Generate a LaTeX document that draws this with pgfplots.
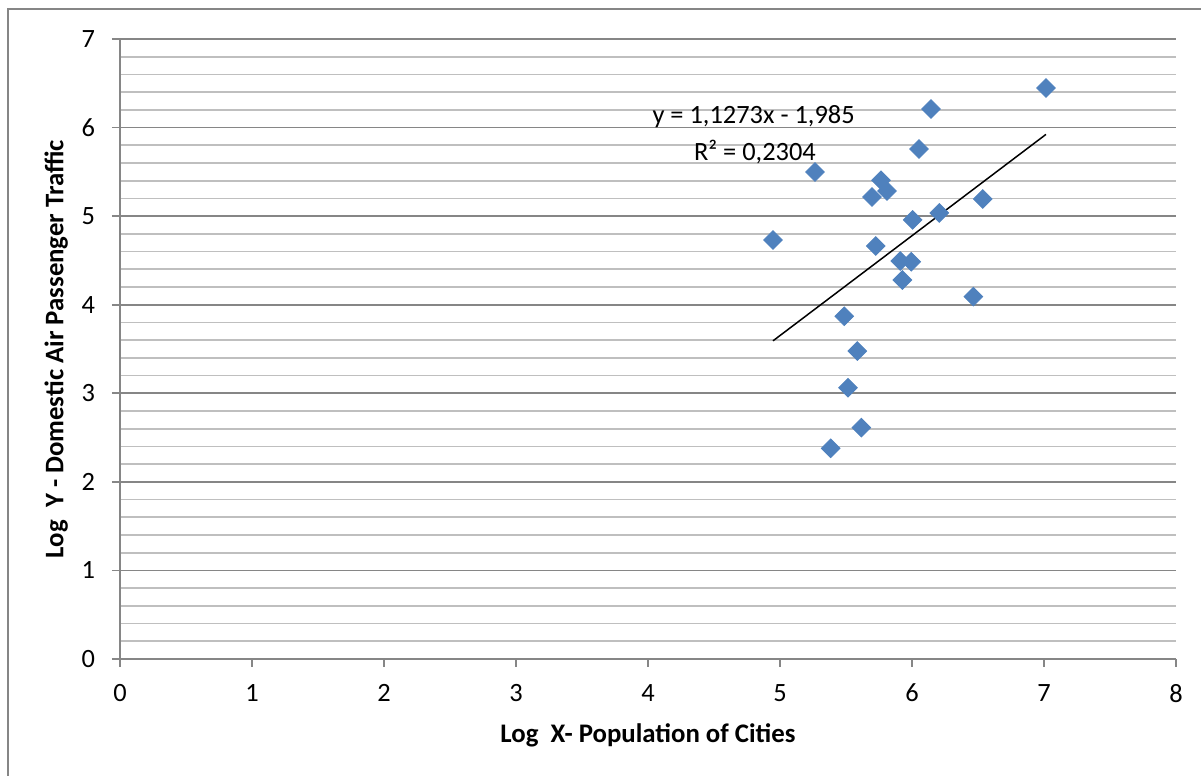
\documentclass[border=0pt]{standalone}
\usepackage{pgfplots}
\pgfplotsset{compat=1.18}
\usepackage{fontspec}
\setmainfont{Carlito}
\definecolor{mk}{HTML}{4F81BD}
\definecolor{axgray}{HTML}{868686}
\definecolor{minorgray}{HTML}{BFBFBF}
\pgfplotstableread{
x y
7.015 6.447
6.144 6.210
6.053 5.758
5.265 5.498
5.765 5.405
5.811 5.284
5.697 5.216
6.536 5.194
6.207 5.036
6.005 4.957
4.947 4.731
5.725 4.663
5.911 4.493
5.995 4.485
5.927 4.279
6.465 4.091
5.487 3.869
5.586 3.477
5.515 3.063
5.616 2.612
5.384 2.379
}\pts
\begin{document}
\begin{tikzpicture}
\useasboundingbox (0pt,0pt) rectangle (600.5pt,388pt);
\draw[axgray, line width=0.8pt] (4pt,-2pt) -- (4pt,383.5pt) -- (602pt,383.5pt);
\begin{axis}[
  at={(60pt,58.5pt)}, anchor=origin,
  scale only axis, width=528pt, height=310pt,
  xmin=0, xmax=8, ymin=0, ymax=7,
  axis x line=bottom, axis y line=left,
  axis line style={-, draw=axgray, line width=0.8pt},
  xtick={0,...,8}, ytick={0,...,7},
  minor y tick num=4,
  tick align=outside, major tick length=4pt, minor tick length=0pt,
  tick style={axgray, line width=0.8pt},
  ymajorgrids, yminorgrids,
  major grid style={axgray, line width=0.8pt},
  minor grid style={minorgray, line width=0.8pt},
  /pgf/number format/assume math mode=true,
  tick label style={font=\fontsize{13.2}{15}\selectfont},
  xticklabel style={yshift=-5pt},
  yticklabel style={xshift=-5pt},
  label style={font=\fontsize{13.4}{15}\selectfont\bfseries},
  xlabel={Log\ \ X- Population of Cities},
  ylabel={Log\ \ Y\ - Domestic Air Passenger Traffic},
  xlabel style={yshift=-4pt},
  clip=false,
]
\addplot[only marks, mark=square*, mark size=3.3pt,
  mark options={rotate=45, fill=mk, draw=mk}] table[x=x,y=y] {\pts};
\addplot[black, line width=0.75pt, no marks] coordinates {(4.947,3.592) (7.015,5.923)};
\node[font=\fontsize{13.2}{15}\selectfont] at (axis cs:4.80,6.12) {y = 1,1273x - 1,985};
\node[font=\fontsize{13.2}{15}\selectfont] at (axis cs:4.81,5.72) {R² = 0,2304};
\end{axis}
\end{tikzpicture}
\end{document}
